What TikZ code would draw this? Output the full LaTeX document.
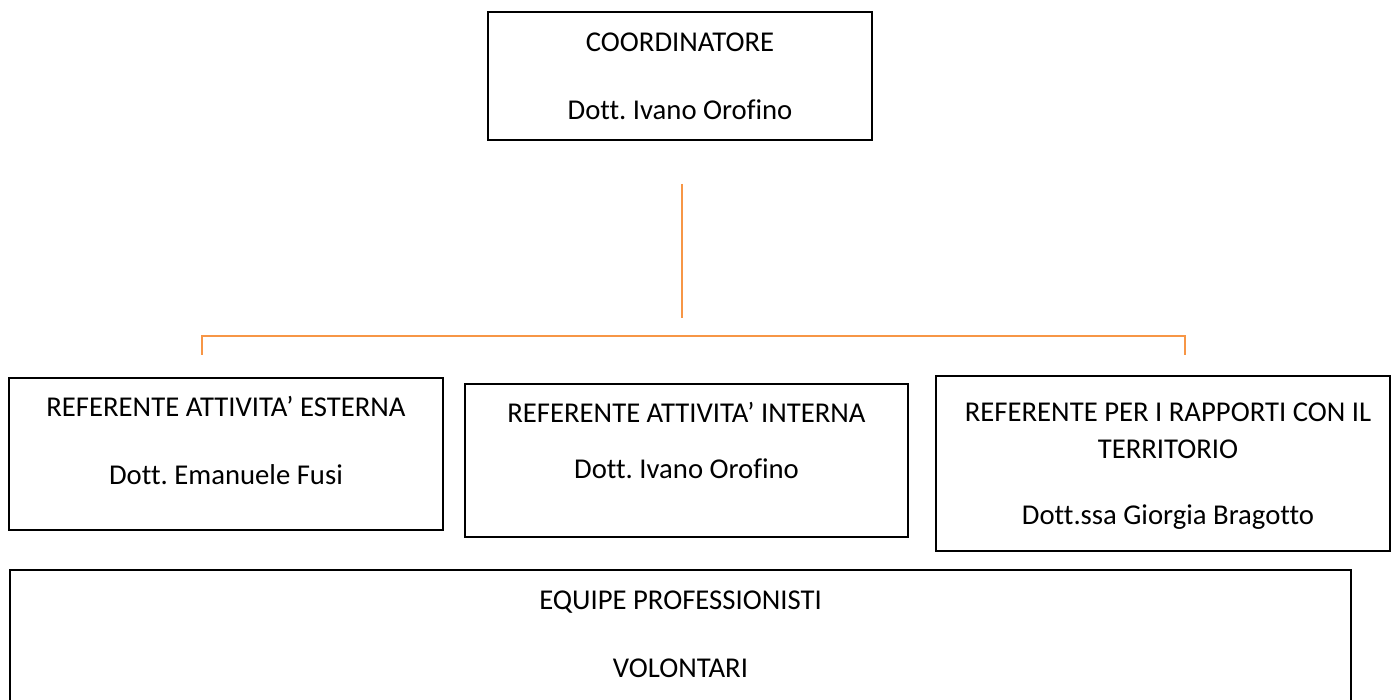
\documentclass[tikz,border=0pt]{standalone}
\usepackage{fontspec}
\setmainfont{Carlito}[Ligatures={NoCommon}]
\definecolor{orgline}{HTML}{F79646}
\begin{document}
\frenchspacing
\begin{tikzpicture}[x=1pt,y=-1pt,
  box/.style={draw=black, line width=1.6pt, inner sep=0pt},
  txt/.style={anchor=base, inner sep=0pt, font=\fontsize{28.7}{34}\selectfont},
  conn/.style={draw=orgline, line width=2.2pt}]
\useasboundingbox (0,0) rectangle (1392,700);
\clip (0,0) rectangle (1392,700);
% boxes
\node[box, minimum width=384pt, minimum height=128pt] (coord) at (680,76) {};
\node[box, minimum width=434pt, minimum height=152pt] (est) at (226,454) {};
\node[box, minimum width=443pt, minimum height=153pt] (int) at (686.5,460.5) {};
\node[box, minimum width=454pt, minimum height=175pt] (terr) at (1163,463.5) {};
\node[box, minimum width=1341pt, minimum height=140pt] (equipe) at (680.5,640) {};
% texts
\node[txt] (coordA) at (680,51.5) {COORDINATORE};
\node[txt] (coordB) at (680,120) {Dott. Ivano Orofino};
\node[txt] (estA) at (226,417) {REFERENTE ATTIVITA’ ESTERNA};
\node[txt] (estB) at (226,484) {Dott. Emanuele Fusi};
\node[txt] (intA) at (686.5,422.5) {REFERENTE ATTIVITA’ INTERNA};
\node[txt] (intB) at (686.5,478) {Dott. Ivano Orofino};
\node[txt] (terrA) at (1168,421) {REFERENTE PER I RAPPORTI CON IL};
\node[txt] (terrB) at (1168,458) {TERRITORIO};
\node[txt] (terrC) at (1168,524) {Dott.ssa Giorgia Bragotto};
\node[txt] (equipeA) at (680.5,609) {EQUIPE PROFESSIONISTI};
\node[txt] (equipeB) at (680.5,677) {VOLONTARI};
% connectors
\coordinate (vtop) at (682,184);
\coordinate (vbot) at (682,318);
\draw[conn] (vtop) -- (vbot);
\coordinate (bl) at (202,355);
\coordinate (blc) at (202,336);
\coordinate (brc) at (1185,336);
\coordinate (br) at (1185,355);
\draw[conn] (bl) -- (blc) -- (brc) -- (br);
\end{tikzpicture}
\end{document}
